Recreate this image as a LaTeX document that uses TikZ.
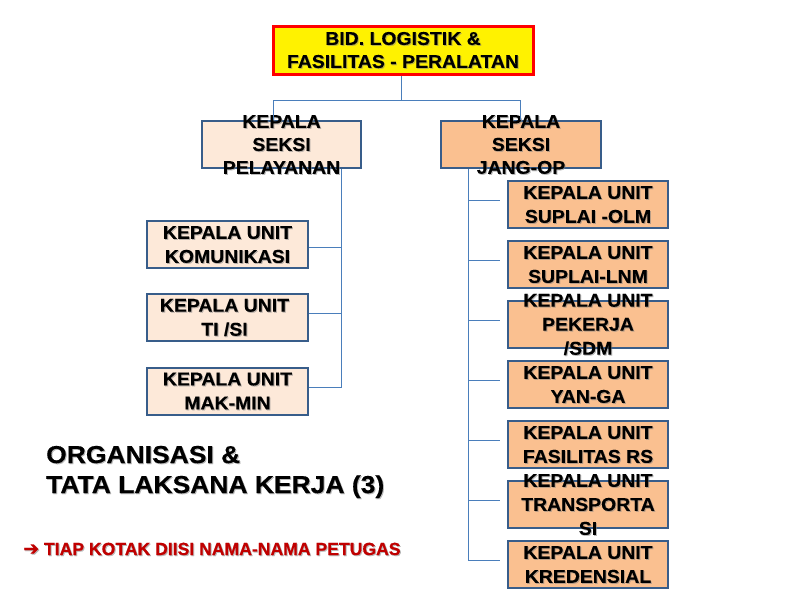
\documentclass[tikz,border=0pt]{standalone}
\usepackage{fontspec}
\setmainfont{Liberation Sans}
\newfontfamily\boxfont{Liberation Sans}[FakeStretch=1.05, BoldFeatures={FakeBold=0.3}]
\newfontfamily\titlefont{Liberation Sans}[FakeStretch=1.08, BoldFeatures={FakeBold=0.4}]
\newfontfamily\notefont{Liberation Sans}[BoldFeatures={FakeBold=0.6}]
\newfontfamily\symfont{DejaVu Sans}[BoldFeatures={FakeBold=0.8}]
\definecolor{bordblue}{HTML}{385D8A}
\definecolor{connblue}{HTML}{4A7EBB}
\definecolor{lightpeach}{HTML}{FDE9D9}
\definecolor{peach}{HTML}{FAC090}
\definecolor{darkred}{HTML}{C00000}
\tikzset{
  boxbase/.style={draw=bordblue, line width=2pt, inner sep=0pt, anchor=center},
  lbox/.style={boxbase, fill=lightpeach, minimum width=161pt, minimum height=47pt},
  rbox/.style={boxbase, fill=peach, minimum width=160pt, minimum height=47pt},
  topbox/.style={draw=red, line width=3pt, fill=yellow, inner sep=0pt, minimum width=260pt, minimum height=48pt},
  txt/.style={align=center, inner sep=0pt, font=\boxfont\bfseries\fontsize{18.5}{24}\selectfont},
  sektxt/.style={align=center, inner sep=0pt, font=\boxfont\bfseries\fontsize{18.5}{23}\selectfont},
  toptxt/.style={align=center, inner sep=0pt, font=\boxfont\bfseries\fontsize{18.5}{23}\selectfont},
  titletxt/.style={anchor=base west, inner sep=0pt, align=left, font=\titlefont\bfseries\fontsize{24.5}{30}\selectfont},
  notetxt/.style={anchor=base west, inner sep=0pt, text=darkred, font=\notefont\bfseries\fontsize{17.6}{20}\selectfont},
  conn/.style={draw=connblue, line width=1pt},
}
% text with a soft drop shadow: name, position, style, text
\newcommand{\stxt}[4]{%
  \node[#3, text=black!50, opacity=0.5] (#1s) at ([xshift=1pt,yshift=-1pt]#2) {#4};
  \node[#3] (#1) at (#2) {#4};}
\begin{document}
\begin{tikzpicture}[x=1pt,y=-1pt]
\useasboundingbox[fill=white] (0,0) rectangle (800,600);

% top box
\node[topbox] (top) at (403,50) {};
\stxt{toptext}{top}{toptxt}{BID. LOGISTIK \&\\FASILITAS - PERALATAN}

% seksi boxes
\node[lbox, minimum width=159pt] (ls) at (281.5,144.5) {};
\stxt{lstext}{ls}{sektxt}{KEPALA\\SEKSI\\PELAYANAN}
\node[rbox] (rs) at (521,144.5) {};
\stxt{rstext}{rs}{sektxt}{KEPALA\\SEKSI\\JANG-OP}

% left unit boxes
\node[lbox] (l1) at (227.5,244.5) {};
\stxt{l1t}{l1}{txt}{KEPALA UNIT\\KOMUNIKASI}
\node[lbox] (l2) at (227.5,317.5) {};
\stxt{l2t}{l2.center}{txt, xshift=-3pt}{KEPALA UNIT\\TI /SI}
\node[lbox] (l3) at (227.5,391) {};
\stxt{l3t}{l3}{txt}{KEPALA UNIT\\MAK-MIN}

% right unit boxes
\node[rbox] (r1) at (588,204.5) {};
\stxt{r1t}{r1}{txt}{KEPALA UNIT\\SUPLAI -OLM}
\node[rbox] (r2) at (588,264.5) {};
\stxt{r2t}{r2}{txt}{KEPALA UNIT\\SUPLAI-LNM}
\node[rbox] (r3) at (588,324.5) {};
\stxt{r3t}{r3}{txt}{KEPALA UNIT\\PEKERJA\\/SDM}
\node[rbox] (r4) at (588,384.5) {};
\stxt{r4t}{r4}{txt}{KEPALA UNIT\\YAN-GA}
\node[rbox] (r5) at (588,444.5) {};
\stxt{r5t}{r5}{txt}{KEPALA UNIT\\FASILITAS RS}
\node[rbox] (r6) at (588,504.5) {};
\stxt{r6t}{r6}{txt}{KEPALA UNIT\\TRANSPORTA\\SI}
\node[rbox] (r7) at (588,564.5) {};
\stxt{r7t}{r7}{txt}{KEPALA UNIT\\KREDENSIAL}

% connectors top
\coordinate (j) at (401,100);
\coordinate (ldrop) at (273,100);
\coordinate (rdrop) at (520,100);
\draw[conn] (top.south -| j) -- (j);
\draw[conn] (ls.north -| ldrop) -- (ldrop) -- (rdrop) -- (rs.north -| rdrop);

% left trunk
\coordinate (ltrunk) at (341,387);
\draw[conn] (ls.south -| ltrunk) -- (ltrunk) -- (l3.east |- ltrunk);
\coordinate (lb1) at (341,247);
\coordinate (lb2) at (341,313);
\draw[conn] (l1.east |- lb1) -- (lb1);
\draw[conn] (l2.east |- lb2) -- (lb2);

% right trunk
\coordinate (rtrunk) at (468,560);
\draw[conn] (rs.south -| rtrunk) -- (rtrunk) -- ([xshift=-7pt]r7.west |- rtrunk);
\foreach \n/\y in {r1/200,r2/260,r3/320,r4/380,r5/440,r6/500}{
  \coordinate (b\n) at (468,\y);
  \draw[conn] (b\n) -- ([xshift=-7pt]\n.west |- b\n);
}

% title
\stxt{title}{46,493}{titletxt}{ORGANISASI \&\\TATA LAKSANA KERJA (3)}

% note
\stxt{note}{23,555}{notetxt}{{\symfont\bfseries\fontsize{19}{20}\selectfont ➔} TIAP KOTAK DIISI NAMA-NAMA PETUGAS}
\end{tikzpicture}
\end{document}
